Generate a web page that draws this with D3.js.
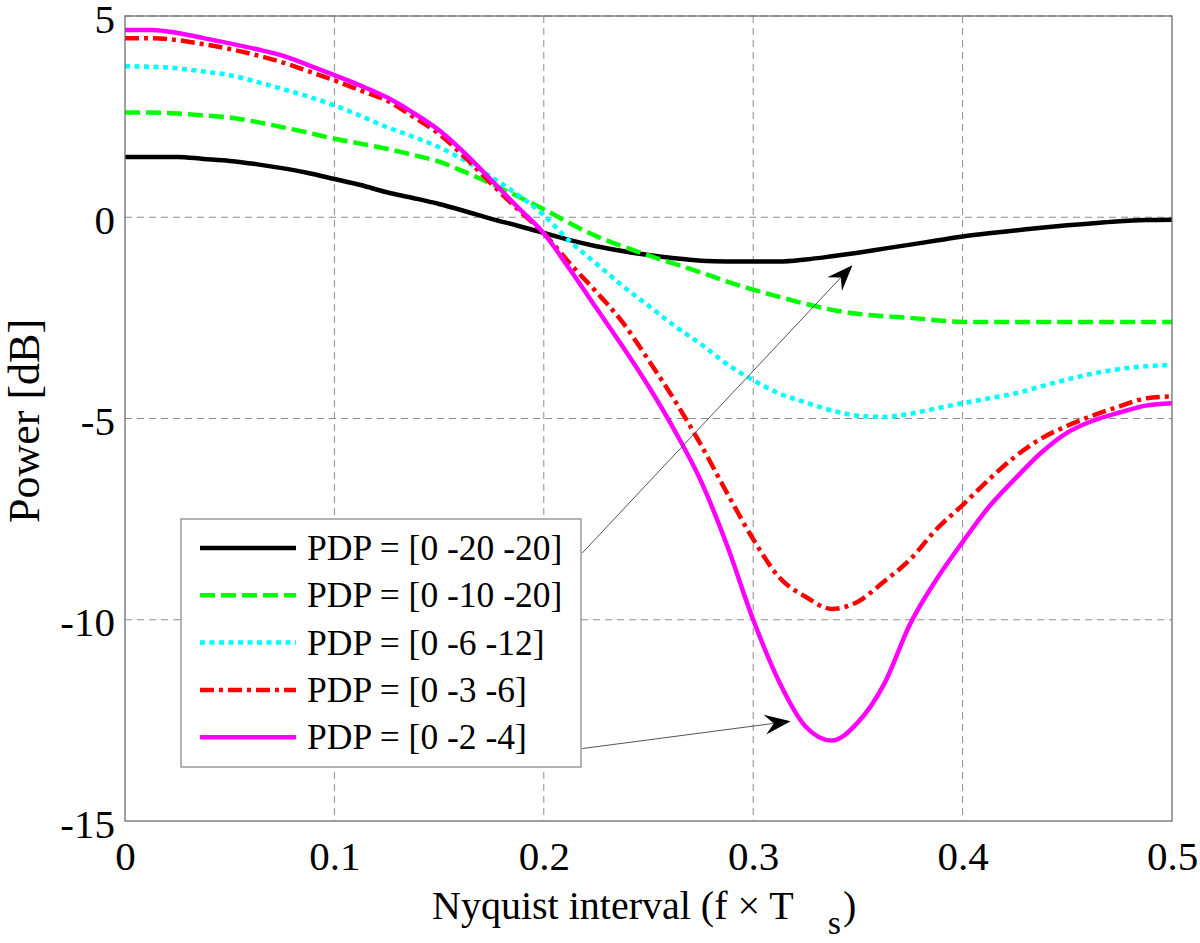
<!DOCTYPE html>
<html>
<head>
<meta charset="utf-8">
<script src="https://cdn.jsdelivr.net/npm/d3@7"></script>
<style>
  html, body { margin: 0; padding: 0; background: #fff; }
  svg { display: block; }
</style>
</head>
<body>
<svg id="chart" width="1200" height="943"></svg>
<script>
// ---------------- DATA ----------------
const freq = [0, 0.0125, 0.025, 0.0375, 0.05, 0.0625, 0.075, 0.0875, 0.1, 0.1125,
  0.125, 0.1375, 0.15, 0.1625, 0.175, 0.1875, 0.2, 0.2125, 0.225, 0.2375,
  0.25, 0.2625, 0.275, 0.2875, 0.3, 0.3125, 0.325, 0.3375, 0.35, 0.3625,
  0.375, 0.3875, 0.4, 0.4125, 0.425, 0.4375, 0.45, 0.4625, 0.475, 0.4875, 0.5];

const pdp_0_20_20 = [1.5, 1.5, 1.5, 1.45, 1.4, 1.32, 1.22, 1.1, 0.95, 0.8,
  0.62, 0.48, 0.33, 0.15, -0.04, -0.21, -0.39, -0.57, -0.72, -0.84,
  -0.94, -1.02, -1.08, -1.1, -1.1, -1.1, -1.05, -0.97, -0.88, -0.78,
  -0.68, -0.58, -0.48, -0.4, -0.33, -0.26, -0.2, -0.15, -0.1, -0.07, -0.06];

const pdp_0_10_20 = [2.6, 2.6, 2.58, 2.53, 2.48, 2.37, 2.24, 2.1, 1.95, 1.83,
  1.7, 1.55, 1.38, 1.12, 0.83, 0.52, 0.2, -0.15, -0.47, -0.72,
  -0.95, -1.16, -1.37, -1.6, -1.8, -1.98, -2.15, -2.3, -2.4, -2.46,
  -2.5, -2.56, -2.6, -2.6, -2.6, -2.6, -2.6, -2.6, -2.6, -2.6, -2.6];

const pdp_0_6_12 = [3.75, 3.74, 3.7, 3.62, 3.53, 3.37, 3.19, 3.0, 2.78, 2.52,
  2.24, 2.0, 1.74, 1.4, 1.0, 0.56, 0.05, -0.6, -1.15, -1.7,
  -2.2, -2.7, -3.15, -3.65, -4.05, -4.38, -4.6, -4.8, -4.93, -4.96,
  -4.88, -4.75, -4.62, -4.5, -4.38, -4.2, -4.03, -3.88, -3.77, -3.7, -3.67];

const pdp_0_3_6 = [4.45, 4.45, 4.4, 4.3, 4.18, 4.03, 3.85, 3.63, 3.4, 3.15,
  2.9, 2.5, 2.07, 1.48, 0.83, 0.2, -0.4, -1.15, -1.85, -2.6,
  -3.55, -4.55, -5.65, -6.85, -8.0, -8.95, -9.43, -9.73, -9.55, -9.05,
  -8.5, -7.75, -7.15, -6.52, -5.95, -5.5, -5.18, -4.92, -4.7, -4.5, -4.45];

const pdp_0_2_4 = [4.65, 4.65, 4.58, 4.45, 4.32, 4.18, 4.02, 3.78, 3.53, 3.27,
  2.98, 2.6, 2.16, 1.58, 0.92, 0.25, -0.4, -1.3, -2.25, -3.2,
  -4.2, -5.3, -6.55, -8.15, -10.0, -11.55, -12.65, -13.0, -12.55, -11.6,
  -10.1, -9.0, -8.07, -7.2, -6.5, -5.85, -5.35, -5.05, -4.85, -4.68, -4.62];

const seriesLabels = ["PDP = [0 -20 -20]", "PDP = [0 -10 -20]", "PDP = [0 -6 -12]", "PDP = [0 -3 -6]", "PDP = [0 -2 -4]"];
const seriesColors = ["#000000", "#00ff00", "#00ffff", "#ff0000", "#ff00ff"];
const seriesDash = [null, "15,6", "5,4.5", "14,5,4,5", null];

const xTicks = [0, 0.1, 0.2, 0.3, 0.4, 0.5];
const xTickLabels = ["0", "0.1", "0.2", "0.3", "0.4", "0.5"];
const yTicks = [-15, -10, -5, 0, 5];
const yTickLabels = ["-15", "-10", "-5", "0", "5"];

// annotation arrows (data coordinates): from legend edge to curve
const arrowFrom = [[0.2184, -8.34], [0.2184, -13.2]];
const arrowTo = [[0.3474, -1.19], [0.3179, -12.52]];

// ---------------- LAYOUT ----------------
const svg = d3.select("#chart");
const L = 125, R = 1172, T = 16, B = 821;
const x = d3.scaleLinear().domain([0, 0.5]).range([L, R]);
const y = d3.scaleLinear().domain([-15, 5]).range([B, T]);
const FONT = "'Liberation Serif', 'Times New Roman', serif";

svg.append("rect").attr("width", 1200).attr("height", 943).attr("fill", "#fff");

svg.append("defs").append("clipPath").attr("id", "clip")
  .append("rect").attr("x", L).attr("y", T).attr("width", R - L).attr("height", B - T);

// grid
const grid = svg.append("g").attr("stroke", "#8c8c8c").attr("stroke-width", 1)
  .attr("stroke-dasharray", "7,5").attr("fill", "none");
xTicks.slice(1, -1).forEach(t => {
  grid.append("line").attr("x1", x(t)).attr("x2", x(t)).attr("y1", T).attr("y2", B);
});
yTicks.slice(1).forEach(t => {
  grid.append("line").attr("x1", L).attr("x2", R).attr("y1", y(t)).attr("y2", y(t));
});

// axes using d3 axes (labels)
const xAxis = d3.axisBottom(x).tickValues(xTicks).tickFormat((d, i) => xTickLabels[i]).tickSize(0).tickPadding(20);
const yAxis = d3.axisLeft(y).tickValues(yTicks).tickFormat((d, i) => yTickLabels[i]).tickSize(0).tickPadding(10);

const gx = svg.append("g").attr("transform", `translate(0,${B})`).call(xAxis);
gx.select(".domain").remove();
gx.selectAll("text").attr("font-family", FONT).attr("font-size", 41).attr("fill", "#000")
  .attr("dy", null).attr("y", 49);

const gy = svg.append("g").attr("transform", `translate(${L},0)`).call(yAxis);
gy.select(".domain").remove();
gy.selectAll("text").attr("font-family", FONT).attr("font-size", 41).attr("fill", "#000")
  .attr("dy", null).attr("y", 16).attr("x", -10);

// lines
const line = d3.line().x((d, i) => x(freq[i])).y(d => y(d)).curve(d3.curveMonotoneX);
const allSeries = [pdp_0_20_20, pdp_0_10_20, pdp_0_6_12, pdp_0_3_6, pdp_0_2_4];
const gl = svg.append("g").attr("clip-path", "url(#clip)");
allSeries.forEach((s, k) => {
  gl.append("path").datum(s).attr("d", line)
    .attr("fill", "none").attr("stroke", seriesColors[k]).attr("stroke-width", 4.5)
    .attr("stroke-linejoin", "round")
    .attr("stroke-dasharray", seriesDash[k]);
});

// box
svg.append("rect").attr("x", L).attr("y", T).attr("width", R - L).attr("height", B - T)
  .attr("fill", "none").attr("stroke", "#6e6e6e").attr("stroke-width", 1.3);

// legend
const lg = svg.append("g");
const LX = 181, LY = 519, LW = 400, LH = 248;
lg.append("rect").attr("x", LX).attr("y", LY).attr("width", LW).attr("height", LH)
  .attr("fill", "#fff").attr("stroke", "#8a8a8a").attr("stroke-width", 1.3);
seriesLabels.forEach((lab, k) => {
  const yy = LY + 29 + k * 47.3;
  lg.append("line").attr("x1", LX + 19).attr("x2", LX + 115).attr("y1", yy).attr("y2", yy)
    .attr("stroke", seriesColors[k]).attr("stroke-width", 4.5).attr("stroke-dasharray", seriesDash[k]);
  lg.append("text").attr("x", LX + 126).attr("y", yy + 12).text(lab)
    .attr("font-family", FONT).attr("font-size", 35.5).attr("fill", "#000");
});

// arrows
arrowFrom.forEach((f, k) => {
  const x0 = x(f[0]), y0 = y(f[1]), x1 = x(arrowTo[k][0]), y1 = y(arrowTo[k][1]);
  const ang = Math.atan2(y1 - y0, x1 - x0);
  const hl = 26, hw = 10, notch = 17;
  svg.append("line").attr("x1", x0).attr("y1", y0)
    .attr("x2", x1 - Math.cos(ang) * notch).attr("y2", y1 - Math.sin(ang) * notch)
    .attr("stroke", "#555").attr("stroke-width", 1);
  const ca = Math.cos(ang), sa = Math.sin(ang);
  const p = (dx, dy) => [x1 + dx * ca - dy * sa, y1 + dx * sa + dy * ca];
  const pts = [p(0, 0), p(-hl, -hw), p(-notch, 0), p(-hl, hw)];
  svg.append("path").attr("d", "M" + pts.map(q => q.join(",")).join("L") + "Z").attr("fill", "#000");
});

// axis titles
const xt = svg.append("text").attr("x", 432).attr("y", 919)
  .attr("font-family", FONT).attr("font-size", 40).attr("fill", "#000");
xt.append("tspan").text("Nyquist interval (f \u00d7 T");
xt.append("tspan").attr("font-size", 34).attr("dx", 34).attr("dy", 15).text("s");
xt.append("tspan").attr("dx", 2).attr("dy", -15).text(")");

svg.append("text").attr("transform", "translate(39,421) rotate(-90)").attr("text-anchor", "middle")
  .attr("font-family", FONT).attr("font-size", 44).attr("fill", "#000")
  .text("Power [dB]");
</script>
</body>
</html>
